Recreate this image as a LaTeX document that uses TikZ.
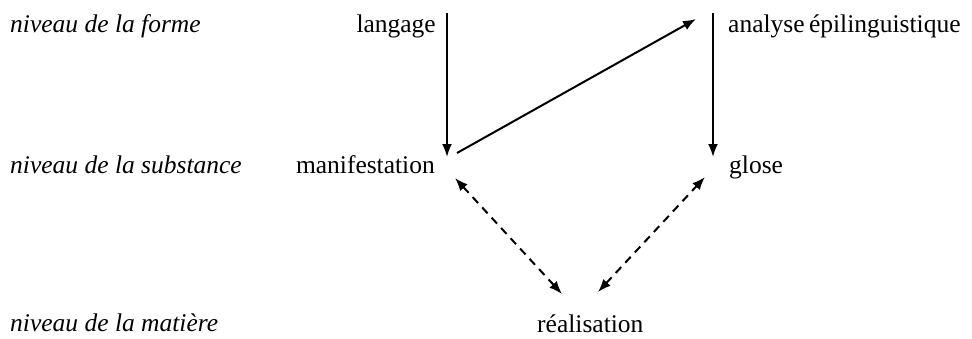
\documentclass[tikz,border=0pt]{standalone}
\usepackage{fontspec}
\setmainfont{Liberation Serif}
\usetikzlibrary{arrows.meta}
\tikzset{
  lbl/.style={inner sep=0pt, font=\fontsize{25.5}{30}\selectfont},
  lvl/.style={lbl, font=\fontsize{25.5}{30}\selectfont\itshape, anchor=base west},
  arr/.style={line width=2pt, -{Latex[length=13pt,width=10pt]}},
  darr/.style={line width=2pt, dash pattern=on 8pt off 6pt, {Latex[length=13pt,width=10pt]}-{Latex[length=13pt,width=10pt]}}
}
\begin{document}
\begin{tikzpicture}[x=1pt,y=1pt]
\useasboundingbox (0,0) rectangle (972,-338);
\node[lvl] (f1) at (10,-32) {niveau de la forme};
\node[lvl] (f2) at (10,-173) {niveau de la substance};
\node[lvl] (f3) at (10,-331) {niveau de la matière};
\node[lbl, anchor=base east] (lang) at (436,-32) {langage};
\node[lbl, anchor=base east] (manif) at (435,-173) {manifestation};
\node[lbl, anchor=base west] (anal) at (728,-32) {analyse\hspace{-2pt} épilinguistique};
\node[lbl, anchor=base west] (glose) at (729,-173) {glose};
\node[lbl, anchor=base west] (real) at (537,-332) {réalisation};
\coordinate (a1) at (447,-13);
\coordinate (a2) at (447,-157);
\coordinate (b1) at (713,-13);
\coordinate (b2) at (713,-157);
\coordinate (c1) at (457,-153);
\coordinate (c2) at (696,-19);
\coordinate (d1) at (455,-178);
\coordinate (d2) at (562,-294);
\coordinate (e1) at (598,-292);
\coordinate (e2) at (705,-177);
\draw[arr] (a1) -- (a2);
\draw[arr] (b1) -- (b2);
\draw[arr] (c1) -- (c2);
\draw[darr] (d1) -- (d2);
\draw[darr] (e1) -- (e2);
\end{tikzpicture}
\end{document}
